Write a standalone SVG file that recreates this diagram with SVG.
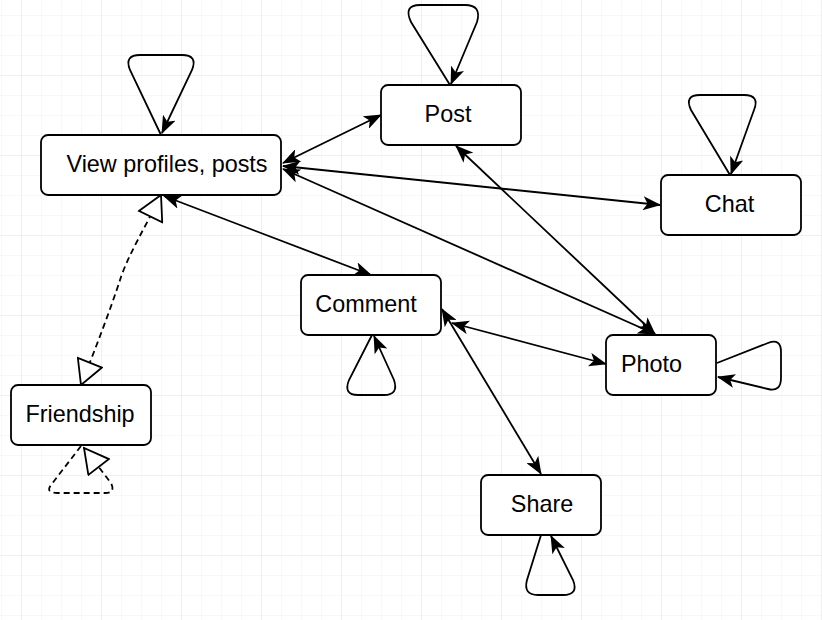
<svg xmlns="http://www.w3.org/2000/svg" width="822" height="620" viewBox="0 0 822 620">
<style>
.node rect{fill:#fff;stroke:#000;stroke-width:1.8}
.node text{font-family:"Liberation Sans",Arial,sans-serif;font-size:23.4px;fill:#000;text-anchor:middle}
.e{fill:none;stroke:#000;stroke-width:1.8}
.arr{marker-end:url(#a)}
.both{marker-start:url(#a);marker-end:url(#a)}
.d{stroke-dasharray:6 4}
</style>
<defs>
<pattern id="gmin" x="1" y="15" width="20" height="20" patternUnits="userSpaceOnUse">
<path d="M0,0 H20 M0,0 V20" fill="none" stroke="#f1f1f1" stroke-width="1"/>
</pattern>
<pattern id="gmaj" x="21" y="75" width="80" height="80" patternUnits="userSpaceOnUse">
<path d="M0,0 H80 M0,0 V80" fill="none" stroke="#e6e6e6" stroke-width="1"/>
</pattern>
<marker id="a" viewBox="0 0 18 14" refX="17" refY="7" markerWidth="18" markerHeight="14" markerUnits="userSpaceOnUse" orient="auto-start-reverse">
<path d="M0,0 L18,7 L0,14 L4.5,7 Z" fill="#000"/>
</marker>
<marker id="h" viewBox="0 0 28 28" refX="26" refY="14" markerWidth="28" markerHeight="28" markerUnits="userSpaceOnUse" orient="auto-start-reverse">
<path d="M2,1 L26,14 L2,27 Z" fill="#fff" stroke="#000" stroke-width="1.8"/>
</marker>
</defs>
<rect width="822" height="620" fill="#fff"/>
<rect width="822" height="620" fill="url(#gmin)"/>
<rect width="822" height="620" fill="url(#gmaj)"/>

<g id="connectors">
<path class="e arr" d="M161,135 L130,70 Q124,55 140,55 L182,55 Q198,55 192,70 L162,133"/>
<path class="e arr" d="M450,85 L411,22 Q403,5 420,5 L465,5 Q482,5 477,22 L451,84"/>
<path class="e arr" d="M730,175 L691,110 Q684,95 700,95 L744,95 Q760,95 754,110 L731,174"/>
<path class="e arr" d="M372,335 L349,380 Q343,395 358,395 L384,395 Q399,395 394,380 L374,336"/>
<path class="e arr" d="M541,535 L527,580 Q523,595 538,595 L563,595 Q579,595 573,580 L551,536"/>
<path class="e arr" d="M717,363 L768,343 Q781,338 781,352 L781,378 Q781,392 768,389 L718,377"/>
<path class="e d" d="M81,446 L51,485 Q45,493 58,493 L105,493 Q116,493 111,483 L84,448" marker-end="url(#h)"/>
<path class="e d" d="M161,195 C145,228 128,255 120,280 S95,350 81,385" marker-start="url(#h)" marker-end="url(#h)"/>
<path class="e both" d="M283,163 L381,115"/>
<path class="e both" d="M283,166 L660,205"/>
<path class="e both" d="M283,169 L655,334"/>
<path class="e both" d="M456,146 L655,334"/>
<path class="e both" d="M164,196 L371,275"/>
<path class="e both" d="M452,323 L606,364"/>
<path class="e both" d="M442,309 L541,474"/>
</g>

<g id="view" class="node"><rect x="41" y="135" width="240" height="60" rx="7"/><text x="167" y="172">View profiles, posts</text></g>
<g id="post" class="node"><rect x="381" y="85" width="140" height="60" rx="7"/><text x="448" y="122">Post</text></g>
<g id="chat" class="node"><rect x="661" y="175" width="140" height="60" rx="7"/><text x="729.5" y="212">Chat</text></g>
<g id="comment" class="node"><rect x="301" y="275" width="140" height="60" rx="7"/><text x="366" y="312">Comment</text></g>
<g id="photo" class="node"><rect x="606" y="335" width="110" height="60" rx="7"/><text x="651.5" y="372">Photo</text></g>
<g id="friendship" class="node"><rect x="11" y="385" width="140" height="60" rx="7"/><text x="80" y="422">Friendship</text></g>
<g id="share" class="node"><rect x="481" y="475" width="120" height="60" rx="7"/><text x="542" y="512">Share</text></g>
</svg>
